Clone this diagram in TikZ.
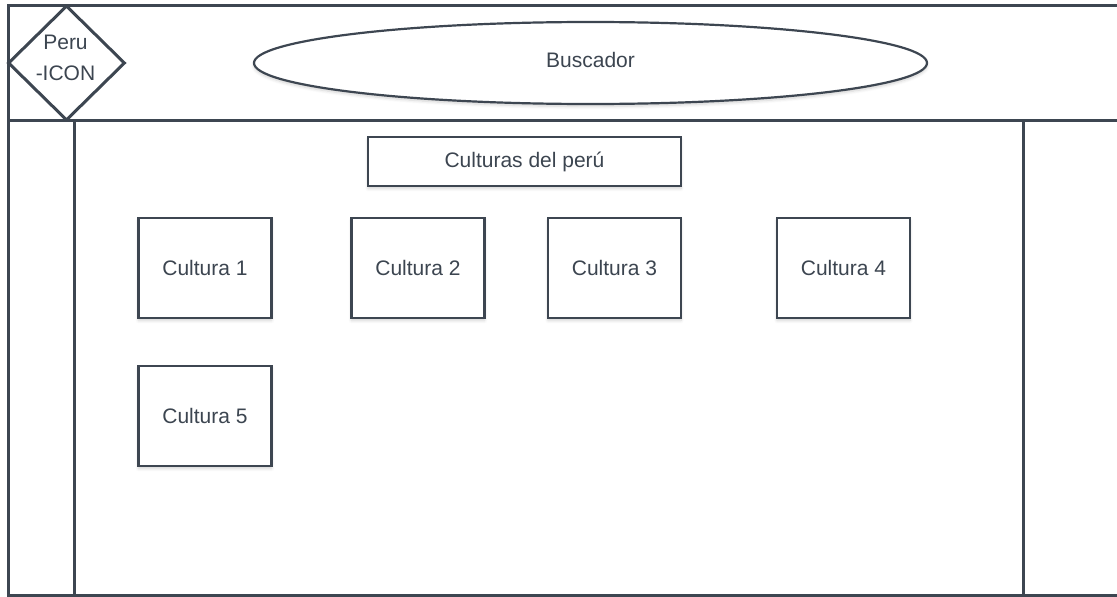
\documentclass[tikz,border=0pt]{standalone}
\usepackage{fontspec}
\setmainfont{Liberation Sans}
\usetikzlibrary{shapes.geometric,shadows.blur}
\definecolor{ink}{HTML}{3D4651}
\definecolor{txt}{HTML}{3C4550}
\tikzset{
  frameline/.style={draw=ink, line width=3pt},
  softshadow/.style={blur shadow={shadow xshift=0pt, shadow yshift=-2.5pt, shadow opacity=18, shadow blur steps=6, shadow blur radius=3pt}},
  cbox/.style={draw=ink, line width=2.8pt, fill=white, softshadow, inner sep=0pt,
    minimum width=133pt, minimum height=100pt, text=txt, font=\fontsize{21}{25}\selectfont},
  lbl/.style={text=txt, font=\fontsize{21}{31}\selectfont, inner sep=0pt, align=center},
}
\begin{document}
\begin{tikzpicture}[x=1pt,y=-1pt]
  \useasboundingbox (0,0) rectangle (1117,597);
  % page frame, header and side columns
  \draw[frameline] (1118,5.5) -- (8.5,5.5) -- (8.5,595.5) -- (1118,595.5);
  \draw[frameline] (8.5,120) -- (1118,120);
  \draw[frameline] (74,120) -- (74,595.5);
  \draw[frameline] (1023.5,120) -- (1023.5,595.5);
  % logo diamond
  \node[diamond, draw=ink, line width=3pt, fill=white, inner sep=0pt,
        minimum width=117pt, minimum height=115pt] (icon) at (66.5,63) {};
  \node[lbl] (icontext) at (65.5,58) {Peru\\-ICON};
  % search bar
  \node[ellipse, draw=ink, line width=2.2pt, fill=white, softshadow, inner sep=0pt,
        minimum width=673pt, minimum height=82pt] (search) at (590.5,63) {};
  \node[lbl] (searchtext) at (590.5,60) {Buscador};
  % title and culture cards
  \node[cbox, minimum width=313pt, minimum height=49pt] (title) at (524.5,161.5) {Culturas del perú};
  \node[cbox] (c1) at (205,268) {Cultura 1};
  \node[cbox] (c2) at (418,268) {Cultura 2};
  \node[cbox] (c3) at (614.5,268) {Cultura 3};
  \node[cbox] (c4) at (843.5,268) {Cultura 4};
  \node[cbox] (c5) at (205,416) {Cultura 5};
\end{tikzpicture}
\end{document}
